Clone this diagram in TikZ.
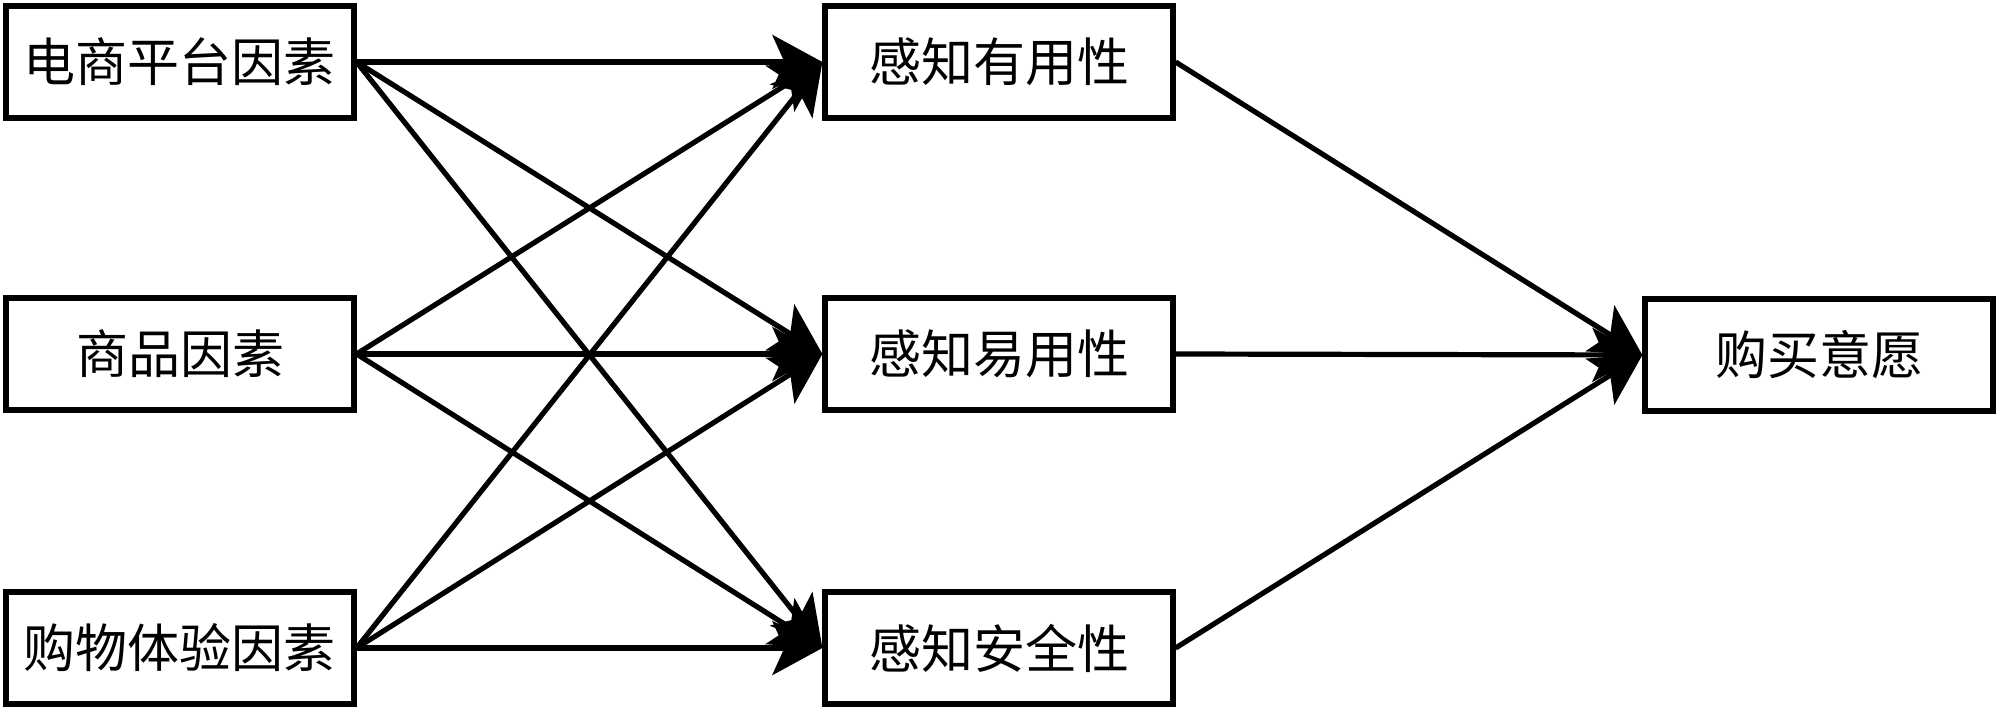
\documentclass[tikz,border=0pt]{standalone}
\usepackage{fontspec}
\newfontfamily\cjk{Noto Sans CJK SC}
\usetikzlibrary{arrows.meta}
\begin{document}
\begin{tikzpicture}[x=0.5pt,y=-0.5pt,
  box/.style={draw=black,line width=2.6pt,fill=white,minimum width=174pt,minimum height=56pt,inner sep=0pt,font=\cjk\fontsize{26pt}{30pt}\selectfont},
  conn/.style={line width=2.6pt,-{Stealth[length=25pt,width=27pt,inset=6pt]}}]
\useasboundingbox (0,0) rectangle (1999,710);
\node[box] (a1) at (180,62) {电商平台因素};
\node[box] (a2) at (180,354) {商品因素};
\node[box] (a3) at (180,648) {购物体验因素};
\node[box] (b1) at (999,62) {感知有用性};
\node[box] (b2) at (999,354) {感知易用性};
\node[box] (b3) at (999,648) {感知安全性};
\node[box] (c) at (1819,355) {购买意愿};
\foreach \s in {a1,a2,a3}{
  \foreach \t in {b1,b2,b3}{
    \draw[conn] (\s.east) -- (\t.west);
  }
}
\foreach \s in {b1,b2,b3}{
  \draw[conn] (\s.east) -- (c.west);
}
\end{tikzpicture}
\end{document}
